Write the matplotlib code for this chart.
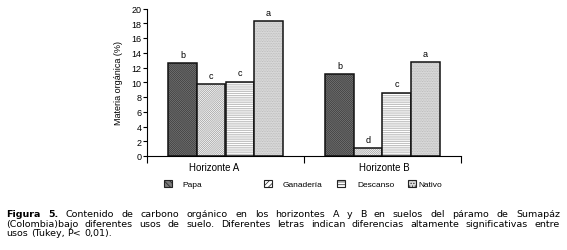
import numpy as np
import matplotlib
matplotlib.use("Agg")
import matplotlib.pyplot as plt
from matplotlib.patches import Patch

# data
horizontes = ["Horizonte A", "Horizonte B"]
usos = ["Papa", "Ganadería", "Descanso", "Nativo"]
papa = [12.6, 11.1]
ganaderia = [9.7, 1.1]
descanso = [10.1, 8.6]
nativo = [18.3, 12.7]
letras_papa = ["b", "b"]
letras_ganaderia = ["c", "d"]
letras_descanso = ["c", "c"]
letras_nativo = ["a", "a"]
y_ticks = [0, 2, 4, 6, 8, 10, 12, 14, 16, 18, 20]

caption = [
    "Figura 5. Contenido de carbono orgánico en los horizontes A y B en suelos del páramo de Sumapáz",
    "(Colombia)bajo diferentes usos de suelo. Diferentes letras indican diferencias altamente significativas entre",
    "usos (Tukey, P< 0,01).",
]

valores = [papa, ganaderia, descanso, nativo]
letras = [letras_papa, letras_ganaderia, letras_descanso, letras_nativo]

# face colour, hatch, hatch colour for each land use
estilos = [
    ("#7a7a7a", "\\" * 16, "#363636"),
    ("#ffffff", "/" * 16, "#9a9a9a"),
    ("#ffffff", "-" * 9, "#a8a8a8"),
    ("#dcdcdc", "." * 10, "#b4b4b4"),
]

W, H = 567, 251
plt.rcParams["hatch.linewidth"] = 0.5
fig = plt.figure(figsize=(W / 100, H / 100), dpi=100)
ax = fig.add_axes([147 / W, 1 - 157 / H, (461 - 147) / W, (157 - 9.5) / H])

chart_font = "Liberation Sans"

w = 0.182
x = np.arange(len(horizontes)) + 0.5
for i, (vals, (face, hatch, hcol)) in enumerate(zip(valores, estilos)):
    pos = x + (i - 1.5) * w
    ax.bar(pos, vals, w, color=face, edgecolor=hcol, hatch=hatch, linewidth=0)
    ax.bar(pos, vals, w, fill=False, edgecolor="#111111", linewidth=1.1)
    for px, v, l in zip(pos, vals, letras[i]):
        ax.annotate(l, (px, v), xytext=(0, 3), textcoords="offset points",
                    ha="center", va="bottom", fontsize=6.5, family=chart_font)

ax.set_xlim(0, 2)
ax.set_ylim(0, 20)
ax.set_yticks(y_ticks)
ax.set_yticklabels([str(t) for t in y_ticks], fontsize=6.5, family=chart_font)
ax.tick_params(axis="y", length=3, width=0.8, pad=1)

ax.set_xticks([0, 1, 2])
ax.set_xticklabels([])
ax.tick_params(axis="x", which="major", length=5, width=0.8)
ax.set_xticks([0.43, 1.51], minor=True)
ax.set_xticklabels(horizontes, minor=True, fontsize=7, family=chart_font)
ax.tick_params(axis="x", which="minor", length=0, pad=4)

for s in ["top", "right"]:
    ax.spines[s].set_visible(False)
for s in ["left", "bottom"]:
    ax.spines[s].set_linewidth(0.8)

ax.set_ylabel("Materia orgánica (%)", fontsize=6.5, family=chart_font, labelpad=6)

# legend entries, spread the way the original places them
leg_x = [164, 264, 337, 408]
leg_pad = [1.2, 1.2, 1.4, 0.2]
for u, (face, hatch, hcol), lx, pad in zip(usos, estilos, leg_x, leg_pad):
    h = Patch(facecolor=face, edgecolor="#222222", hatch=hatch[:6], linewidth=0.8)
    fig.legend([h], [u], loc="center left", bbox_to_anchor=(lx / W, 1 - 185 / H),
               frameon=False, borderpad=0, borderaxespad=0, handlelength=1.0,
               handleheight=0.9, handletextpad=pad,
               prop={"family": chart_font, "size": 6})

# caption, justified like the journal text
r = fig.canvas.get_renderer()
left, right = 6, 560
line_y = [215, 224.5, 234]
cap_size = 6.8
sp = fig.text(0, 0, "a a", fontsize=cap_size).get_window_extent(r).width - \
    fig.text(0, 0, "aa", fontsize=cap_size).get_window_extent(r).width
for t in fig.texts[-2:]:
    t.remove()
for k, (line, yy) in enumerate(zip(caption, line_y)):
    words = line.split(" ")
    texts = []
    for j, wd in enumerate(words):
        bold = k == 0 and j < 2
        texts.append(fig.text(0, 1 - yy / H, wd, fontsize=cap_size, va="center",
                              fontweight="bold" if bold else "normal",
                              family="DejaVu Sans"))
    widths = [t.get_window_extent(r).width for t in texts]
    if k < len(caption) - 1:
        gap = (right - left - sum(widths)) / (len(words) - 1)
    else:
        gap = sp
    xx = left
    for t, wd in zip(texts, widths):
        t.set_x(xx / W)
        xx += wd + gap

fig.savefig("out.png", dpi=100)
